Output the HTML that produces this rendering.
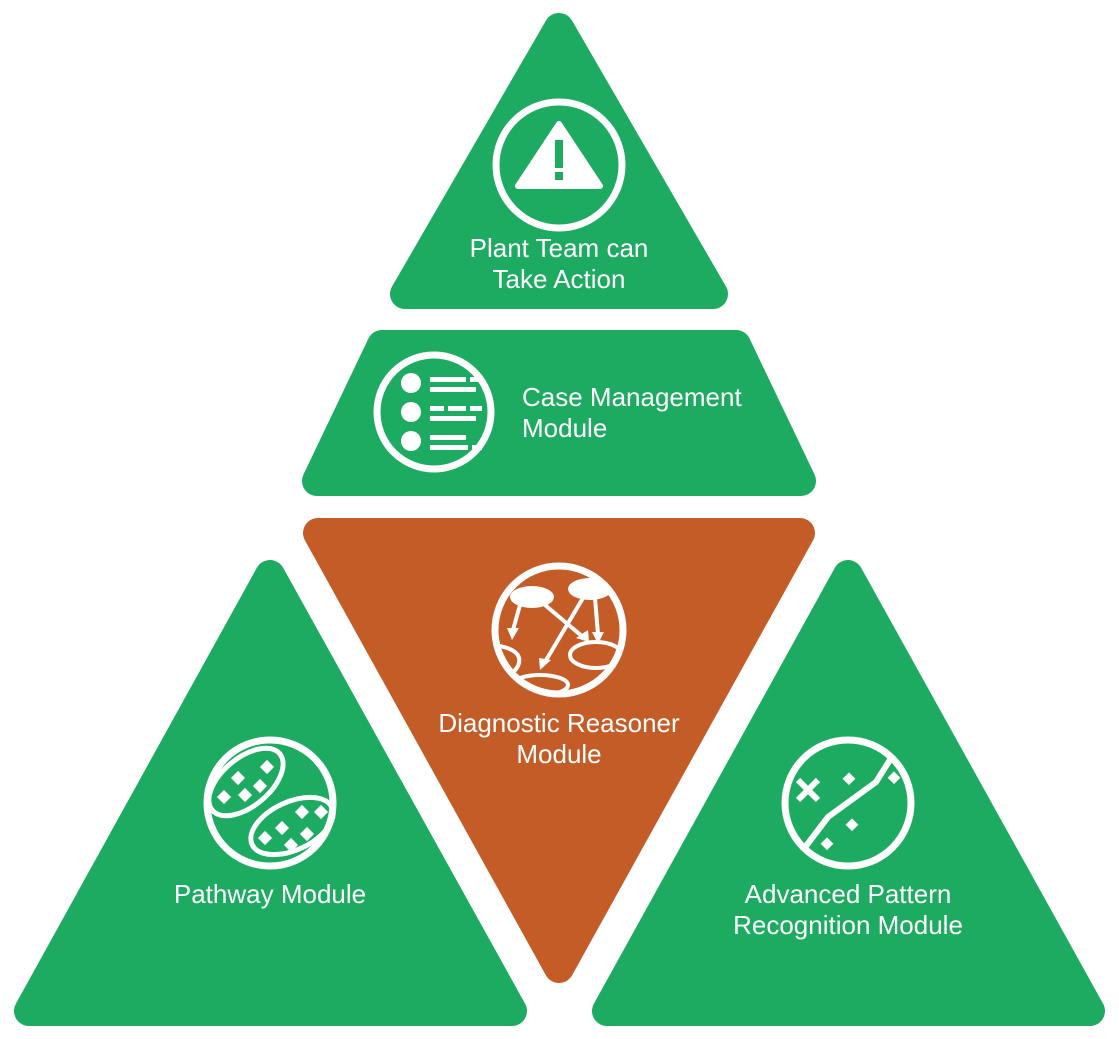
<!DOCTYPE html>
<html><head><style>body{margin:0;background:#fff}svg{display:block}</style></head><body>
<svg width="1119" height="1039" viewBox="0 0 1119 1039" xmlns="http://www.w3.org/2000/svg">
<defs><clipPath id="dc"><circle cx="559" cy="630" r="62"/></clipPath></defs>
<g stroke-linejoin="round" stroke-width="30">
<polygon points="559,28 405,294 713,294" fill="#1dab61" stroke="#1dab61"/>
<polygon points="382,345 736,345 801,481 317,481" fill="#1dab61" stroke="#1dab61"/>
<polygon points="318,533 800,533 559,968" fill="#c45c28" stroke="#c45c28"/>
<polygon points="270,575 29,1011 512,1011" fill="#1dab61" stroke="#1dab61"/>
<polygon points="848,575 607,1011 1090,1011" fill="#1dab61" stroke="#1dab61"/>
</g>
<g fill="none" stroke="#fff" stroke-width="7">
<circle cx="559" cy="165" r="63"/>
<circle cx="434" cy="412" r="57"/>
<circle cx="559" cy="630" r="64"/>
<circle cx="270" cy="803" r="63"/>
<circle cx="848" cy="803" r="63"/>
</g>
<path d="M559,124 L600,186 L518,186 Z" fill="#fff" stroke="#fff" stroke-width="6" stroke-linejoin="round"/>
<rect x="555" y="140" width="8" height="28" fill="#1dab61"/>
<rect x="555" y="172" width="8" height="8" fill="#1dab61"/>
<g fill="#fff">
<circle cx="411" cy="383" r="10"/><circle cx="411" cy="412" r="10"/><circle cx="411" cy="441" r="10"/>
<rect x="430" y="377" width="36" height="5"/><rect x="470" y="377" width="12" height="5"/><rect x="430" y="387" width="46" height="5"/>
<rect x="430" y="406" width="14" height="5"/><rect x="448" y="406" width="18" height="5"/><rect x="470" y="406" width="12" height="5"/><rect x="430" y="416" width="46" height="5"/>
<rect x="430" y="435" width="36" height="5"/><rect x="430" y="445" width="38" height="5"/><rect x="472" y="445" width="10" height="5"/>
</g>
<g clip-path="url(#dc)">
<g fill="#fff">
<ellipse cx="532" cy="597" rx="22" ry="11"/><ellipse cx="590" cy="589" rx="22" ry="11"/>
</g>
<g stroke="#fff" stroke-width="4" fill="none">
<line x1="520" y1="605" x2="513" y2="630"/><line x1="545" y1="605" x2="583" y2="637"/>
<line x1="583" y1="598" x2="545" y2="662"/><line x1="595" y1="598" x2="598" y2="634"/>
<ellipse cx="596" cy="655" rx="26" ry="13"/><ellipse cx="540" cy="685" rx="28" ry="10"/><path d="M495,645 Q525,650 518,666 Q510,680 495,672"/>
</g>
<g fill="#fff">
<polygon points="507,628 519,628 512,640"/><polygon points="576,638 588,630 589,642"/><polygon points="539,658 551,660 540,670"/><polygon points="592,632 604,632 598,644"/>
</g>
</g>
<g fill="none" stroke="#fff" stroke-width="5">
<ellipse cx="246" cy="782" rx="44" ry="24" transform="rotate(-40 246 782)"/>
<ellipse cx="292" cy="826" rx="44" ry="24" transform="rotate(-25 292 826)"/>
</g>
<g fill="#fff">
<rect x="262" y="762" width="10" height="10" transform="rotate(45 267 767)"/><rect x="233" y="773" width="10" height="10" transform="rotate(45 238 778)"/><rect x="255" y="781" width="10" height="10" transform="rotate(45 260 786)"/><rect x="240" y="790" width="10" height="10" transform="rotate(45 245 795)"/><rect x="219" y="792" width="10" height="10" transform="rotate(45 224 797)"/>
<rect x="297" y="807" width="10" height="10" transform="rotate(45 302 812)"/><rect x="316" y="807" width="10" height="10" transform="rotate(45 321 812)"/><rect x="277" y="823" width="10" height="10" transform="rotate(45 282 828)"/><rect x="302" y="829" width="10" height="10" transform="rotate(45 307 834)"/><rect x="260" y="833" width="10" height="10" transform="rotate(45 265 838)"/><rect x="286" y="840" width="10" height="10" transform="rotate(45 291 845)"/>
</g>
<path d="M806,846 L828,817 L876,782 L893,755" fill="none" stroke="#fff" stroke-width="6"/>
<g stroke="#fff" stroke-width="6"><line x1="798" y1="780" x2="818" y2="800"/><line x1="818" y1="780" x2="798" y2="800"/></g>
<g fill="#fff">
<rect x="845" y="774" width="9" height="9" transform="rotate(45 849 778)"/><rect x="890" y="773" width="9" height="9" transform="rotate(45 894 777)"/><rect x="848" y="820" width="9" height="9" transform="rotate(45 852 824)"/><rect x="823" y="839" width="9" height="9" transform="rotate(45 827 843)"/>
</g>
<g fill="#fff" font-family="Liberation Sans, sans-serif" font-size="26">
<text x="559" y="257" text-anchor="middle">Plant Team can</text>
<text x="559" y="288" text-anchor="middle">Take Action</text>
<text x="522" y="406">Case Management</text>
<text x="522" y="437">Module</text>
<text x="559" y="732" text-anchor="middle">Diagnostic Reasoner</text>
<text x="559" y="763" text-anchor="middle">Module</text>
<text x="270" y="903" text-anchor="middle">Pathway Module</text>
<text x="848" y="903" text-anchor="middle">Advanced Pattern</text>
<text x="848" y="934" text-anchor="middle">Recognition Module</text>
</g>
</svg>
</body></html>
